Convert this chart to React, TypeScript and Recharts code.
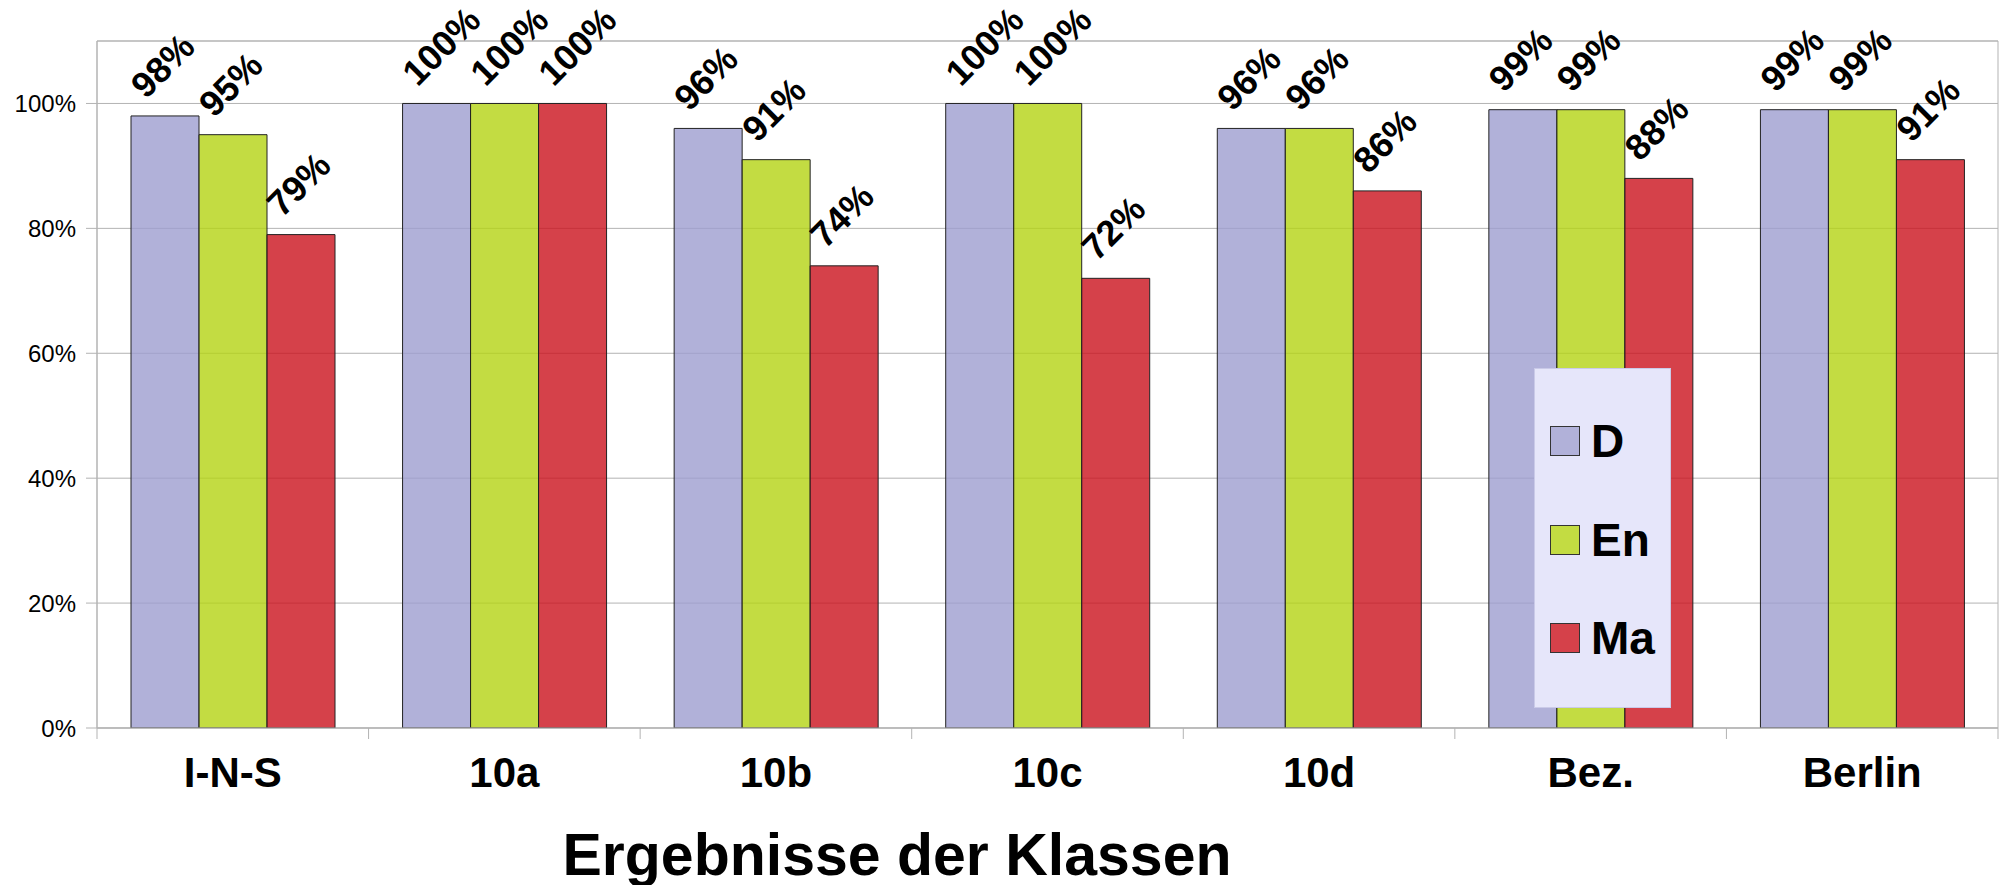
import React from 'react';
import {
  BarChart,
  Bar,
  XAxis,
  YAxis,
  CartesianGrid,
  LabelList,
  Legend,
  ReferenceArea,
} from 'recharts';

const categories = ['I-N-S', '10a', '10b', '10c', '10d', 'Bez.', 'Berlin'];
const deutsch = [98, 100, 96, 100, 96, 99, 99];
const englisch = [95, 100, 91, 100, 96, 99, 99];
const mathe = [79, 100, 74, 72, 86, 88, 91];
const yTicks = [0, 20, 40, 60, 80, 100];
const seriesNames = ['D', 'En', 'Ma'];

// bar fills are drawn at 0.8 opacity so grid lines show through,
// legend swatches use the resulting visible colour
const BAR_FILL = ['#9e9ecf', '#b4d313', '#cb121d'];
const SWATCH = ['#b1b1d9', '#c3dc42', '#d5414a'];

const W = 2008;
const H = 885;
const Y_AXIS_W = 97;
const RIGHT = 10;
const TOP = 41;
const X_AXIS_H = 157;
const BAND = (W - Y_AXIS_W - RIGHT) / categories.length;
const FONT = '"Liberation Sans", Arial, sans-serif';

const data = categories.map((name, i) => ({
  name,
  D: deutsch[i],
  En: englisch[i],
  Ma: mathe[i],
}));

const renderValueLabel = (props: any) => {
  const { x, y, value } = props;
  const px = Number(x) + 15;
  const py = Number(y) - 16;
  return (
    <text
      x={px}
      y={py}
      transform={`rotate(-45, ${px}, ${py})`}
      fontSize={36}
      fontWeight="bold"
      fontFamily={FONT}
      fill="#000"
    >
      {value}%
    </text>
  );
};

const CategoryTick = (props: any) => {
  const { x, y, payload, index } = props;
  const last = index === categories.length - 1;
  return (
    <g>
      <line x1={x - BAND / 2} y1={y} x2={x - BAND / 2} y2={y + 11} stroke="#b3b3b3" />
      {last && <line x1={x + BAND / 2} y1={y} x2={x + BAND / 2} y2={y + 11} stroke="#b3b3b3" />}
      <text x={x} y={y + 59} textAnchor="middle" fontSize={42} fontWeight="bold" fontFamily={FONT} fill="#000">
        {payload.value}
      </text>
    </g>
  );
};

const LegendBox = () => (
  <div
    style={{
      width: 137,
      height: 340,
      boxSizing: 'border-box',
      background: '#e6e6fa',
      border: '1px solid #cacae8',
      paddingTop: 23,
      fontFamily: FONT,
    }}
  >
    {seriesNames.map((s, i) => (
      <div key={s} style={{ height: 98.5, display: 'flex', alignItems: 'center', paddingLeft: 15 }}>
        <div
          style={{
            width: 30,
            height: 30,
            boxSizing: 'border-box',
            background: SWATCH[i],
            border: '1px solid #333',
            marginRight: 11,
          }}
        />
        <span style={{ fontSize: 46, fontWeight: 'bold', color: '#000', lineHeight: '46px' }}>{s}</span>
      </div>
    ))}
  </div>
);

export default function App() {
  return (
    <div style={{ position: 'absolute', left: 0, top: 0, width: W, height: H, background: '#fff' }}>
      <BarChart
        width={W}
        height={H}
        data={data}
        margin={{ top: TOP, right: RIGHT, left: 0, bottom: 0 }}
        barSize={68}
        barGap={0}
        style={{ fontFamily: FONT }}
      >
        <CartesianGrid vertical={false} stroke="#b3b3b3" />
        <ReferenceArea y1={0} y2={110} fill="none" stroke="#b3b3b3" ifOverflow="visible" />
        <XAxis
          dataKey="name"
          height={X_AXIS_H}
          axisLine={{ stroke: '#b3b3b3' }}
          tickLine={false}
          tickSize={0}
          tickMargin={0}
          interval={0}
          tick={<CategoryTick />}
        />
        <YAxis
          width={Y_AXIS_W}
          domain={[0, 110]}
          ticks={yTicks}
          allowDataOverflow
          tickFormatter={(v: number) => `${v}%`}
          axisLine={{ stroke: '#b3b3b3' }}
          tickLine={{ stroke: '#b3b3b3' }}
          tickSize={11}
          tickMargin={10}
          tick={{ fontSize: 24, fill: '#000', fontFamily: FONT }}
        />
        <Legend
          layout="vertical"
          align="center"
          verticalAlign="middle"
          content={<LegendBox />}
          wrapperStyle={{ position: 'absolute', left: 1534, top: 368, width: 137, height: 340 }}
        />
        {seriesNames.map((s, i) => (
          <Bar
            key={s}
            dataKey={s}
            fill={BAR_FILL[i]}
            fillOpacity={0.8}
            stroke="#222"
            strokeWidth={1}
            isAnimationActive={false}
          >
            <LabelList dataKey={s} content={renderValueLabel} />
          </Bar>
        ))}
      </BarChart>
      <div
        style={{
          position: 'absolute',
          left: 497,
          width: 800,
          top: 826,
          textAlign: 'center',
          fontFamily: FONT,
          fontWeight: 'bold',
          fontSize: 59,
          lineHeight: '58px',
          color: '#000',
          whiteSpace: 'nowrap',
        }}
      >
        Ergebnisse der Klassen
      </div>
    </div>
  );
}
